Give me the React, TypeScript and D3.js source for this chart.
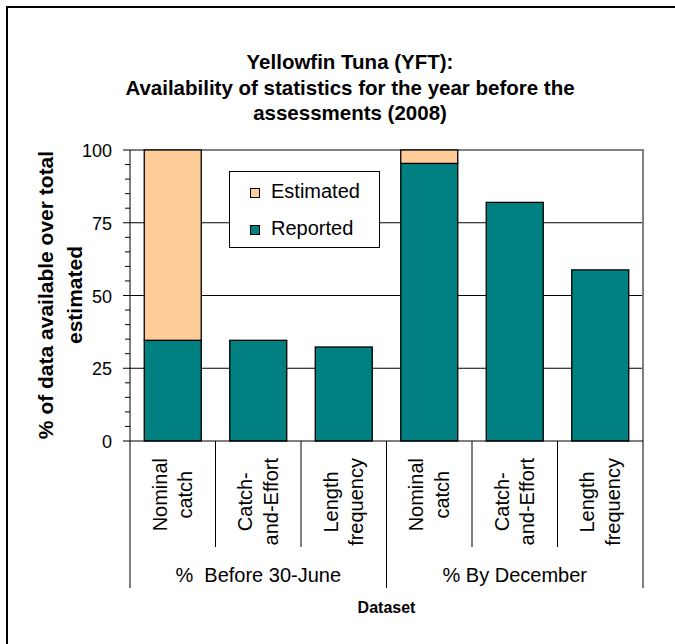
import { useEffect, useRef } from 'react';
import * as d3 from 'd3';

const TITLE_LINES = [
  'Yellowfin Tuna (YFT):',
  'Availability of statistics for the year before the',
  'assessments (2008)',
];
const Y_TITLE_LINES = ['% of data available over total', 'estimated'];
const GROUPS = ['%  Before 30-June', '% By December'];
const DATASETS = [['Nominal', 'catch'], ['Catch-', 'and-Effort'], ['Length', 'frequency']];
const REPORTED = [34.6, 34.6, 32.3, 95.4, 82.0, 58.8];
const ESTIMATED = [65.4, 0, 0, 4.6, 0, 0];
const Y_TICKS = [0, 25, 50, 75, 100];
const SERIES = ['Estimated', 'Reported'];

const COLORS: Record<string, string> = { Reported: '#008080', Estimated: '#FFCC99' };
const FONT = '"Liberation Sans", Arial, sans-serif';

const WIDTH = 675;
const HEIGHT = 644;

export default function App() {
  const svgRef = useRef<SVGSVGElement>(null);

  useEffect(() => {
    if (!svgRef.current) return;
    const svg = d3.select(svgRef.current);
    svg.selectAll('*').remove();
    svg.attr('font-family', FONT);

    const left = 130, right = 643, top = 150, bottom = 441;

    const rows = GROUPS.flatMap((g, gi) =>
      DATASETS.map((lines, di) => {
        const i = gi * DATASETS.length + di;
        return { i, group: g, lines, reported: REPORTED[i], estimated: ESTIMATED[i] };
      })
    );

    const x = d3.scaleBand<number>()
      .domain(rows.map(d => d.i))
      .range([left, right])
      .paddingInner(1 / 3)
      .paddingOuter(1 / 6);
    const step = x.step();
    const y = d3.scaleLinear().domain([0, 100]).range([bottom, top]);

    // outer chart border (only top/left visible in the frame)
    svg.append('path')
      .attr('d', `M7,${HEIGHT + 5} V7 H${WIDTH + 5}`)
      .attr('fill', 'none')
      .attr('stroke', '#000')
      .attr('stroke-width', 2);

    // title
    svg.append('g')
      .selectAll('text')
      .data(TITLE_LINES)
      .enter()
      .append('text')
      .attr('x', 350)
      .attr('y', (_, i) => 69 + i * 25.5)
      .attr('text-anchor', 'middle')
      .attr('font-size', 20.5)
      .attr('font-weight', 'bold')
      .text(d => d);

    // gridlines
    svg.append('g')
      .selectAll('line')
      .data(Y_TICKS.filter(t => t > 0 && t < 100))
      .enter()
      .append('line')
      .attr('x1', left)
      .attr('x2', right)
      .attr('y1', d => y(d))
      .attr('y2', d => y(d))
      .attr('stroke', '#000')
      .attr('stroke-width', 1);

    // plot border top / right
    svg.append('path')
      .attr('d', `M${left},${y(100)} H${right} V${bottom}`)
      .attr('fill', 'none')
      .attr('stroke', '#808080')
      .attr('stroke-width', 2);

    // stacked bars
    const stack = d3.stack<typeof rows[number]>()
      .keys(['reported', 'estimated']);
    const layers = stack(rows);
    const names: Record<string, string> = { reported: 'Reported', estimated: 'Estimated' };

    layers.forEach(layer => {
      svg.append('g')
        .selectAll('rect')
        .data(layer.filter(d => d[1] - d[0] > 0))
        .enter()
        .append('rect')
        .attr('x', d => x(d.data.i)!)
        .attr('width', x.bandwidth())
        .attr('y', d => y(d[1]))
        .attr('height', d => y(d[0]) - y(d[1]))
        .attr('fill', COLORS[names[layer.key]])
        .attr('stroke', '#000')
        .attr('stroke-width', 1.3);
    });

    // y axis
    svg.append('line')
      .attr('x1', left).attr('x2', left)
      .attr('y1', top).attr('y2', bottom)
      .attr('stroke', '#000');
    svg.append('g')
      .selectAll('line')
      .data(d3.range(0, 101, 5))
      .enter()
      .append('line')
      .attr('x1', d => (d % 25 === 0 ? left - 7 : left - 5))
      .attr('x2', left)
      .attr('y1', d => y(d))
      .attr('y2', d => y(d))
      .attr('stroke', '#000');
    svg.append('g')
      .selectAll('text')
      .data(Y_TICKS)
      .enter()
      .append('text')
      .attr('x', 112)
      .attr('y', d => y(d) + 7)
      .attr('text-anchor', 'end')
      .attr('font-size', 18)
      .text(d => d);

    // y axis title
    svg.append('g')
      .attr('transform', 'translate(0,295) rotate(-90)')
      .selectAll('text')
      .data(Y_TITLE_LINES)
      .enter()
      .append('text')
      .attr('x', 0)
      .attr('y', (_, i) => 53 + i * 28.5)
      .attr('text-anchor', 'middle')
      .attr('font-size', 21)
      .attr('font-weight', 'bold')
      .text(d => d);

    // x axis line and separators
    svg.append('line')
      .attr('x1', left).attr('x2', right)
      .attr('y1', bottom).attr('y2', bottom)
      .attr('stroke', '#000');
    const bounds = d3.range(0, rows.length + 1).map(k => left + k * step);
    svg.append('g')
      .selectAll('line')
      .data(bounds)
      .enter()
      .append('line')
      .attr('x1', d => d).attr('x2', d => d)
      .attr('y1', bottom)
      .attr('y2', (_, k) => (k % DATASETS.length === 0 ? 588 : 547))
      .attr('stroke', '#000');

    // category labels (rotated, two lines, block top at y=458)
    rows.forEach(r => {
      const cx = x(r.i)! + x.bandwidth() / 2;
      const g = svg.append('g');
      const texts = g.selectAll('text')
        .data(r.lines)
        .enter()
        .append('text')
        .attr('text-anchor', 'middle')
        .attr('font-size', 20)
        .text(d => d);
      let maxLen = 0;
      texts.each(function () {
        maxLen = Math.max(maxLen, (this as SVGTextElement).getComputedTextLength());
      });
      const cy = 458 + maxLen / 2;
      g.attr('transform', `translate(${cx},${cy}) rotate(-90)`);
      texts.attr('x', 0).attr('y', (_, i) => -6 + i * 25.5);
    });

    // group labels
    svg.append('g')
      .selectAll('text')
      .data(GROUPS)
      .enter()
      .append('text')
      .attr('x', (_, gi) => left + (gi + 0.5) * DATASETS.length * step)
      .attr('y', 582)
      .attr('text-anchor', 'middle')
      .attr('font-size', 20)
      .style('white-space', 'pre')
      .text(d => d);

    svg.append('text')
      .attr('x', (left + right) / 2)
      .attr('y', 613)
      .attr('text-anchor', 'middle')
      .attr('font-size', 16)
      .attr('font-weight', 'bold')
      .text('Dataset');

    // legend
    const legend = svg.append('g');
    legend.append('rect')
      .attr('x', 229.5).attr('y', 171.5)
      .attr('width', 150).attr('height', 76)
      .attr('fill', '#fff')
      .attr('stroke', '#000');
    SERIES.forEach((s, i) => {
      const row = legend.append('g').attr('transform', `translate(0, ${i * 37})`);
      row.append('rect')
        .attr('x', 250.5).attr('y', 188.5)
        .attr('width', 9).attr('height', 9)
        .attr('fill', COLORS[s])
        .attr('stroke', '#000');
      row.append('text')
        .attr('x', 271)
        .attr('y', 198)
        .attr('font-size', 20)
        .text(s);
    });
  }, []);

  return (
    <svg
      ref={svgRef}
      width={WIDTH}
      height={HEIGHT}
      style={{ position: 'absolute', left: 0, top: 0, background: '#fff' }}
    />
  );
}
